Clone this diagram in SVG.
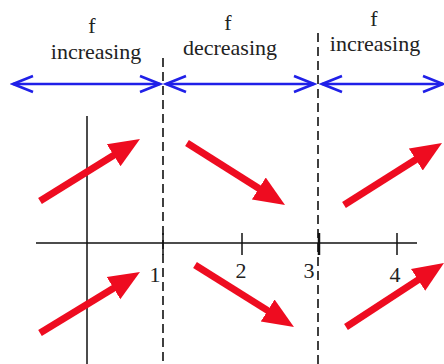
<svg xmlns="http://www.w3.org/2000/svg" width="444" height="364" viewBox="0 0 444 364">
<style>
.t{font-family:"Liberation Serif","Times New Roman",serif;font-size:22px;fill:#222;text-anchor:middle}
.n{font-family:"Liberation Serif","Times New Roman",serif;font-size:22px;fill:#222;text-anchor:middle}
.ax{stroke:#111;stroke-width:1.5;fill:none}
.dash{stroke:#111;stroke-width:1.6;stroke-dasharray:9,5;fill:none}
.blue{stroke:#2020e8;stroke-width:2.6;fill:none;marker-start:url(#bh);marker-end:url(#bh)}
.red{stroke:#ee0c20;stroke-width:7;fill:none;marker-end:url(#rh)}
</style>
<defs>
<marker id="bh" markerUnits="userSpaceOnUse" markerWidth="26" markerHeight="22" viewBox="0 0 26 22" refX="23" refY="11" orient="auto-start-reverse">
<path d="M3,3 L23,11 L3,19" stroke="#2020e8" stroke-width="2.6" fill="none" stroke-linejoin="miter"/>
</marker>
<marker id="rh" markerUnits="userSpaceOnUse" markerWidth="32" markerHeight="28" viewBox="0 0 32 28" refX="11" refY="14" orient="auto">
<path d="M0,1 L31,14 L0,27 Z" fill="#ee0c20"/>
</marker>
</defs>
<g id="labels">
<text class="t" x="92" y="33">f</text>
<text class="t" x="96" y="59">increasing</text>
<text class="t" x="228" y="30">f</text>
<text class="t" x="230" y="55">decreasing</text>
<text class="t" x="374" y="26">f</text>
<text class="t" x="375" y="51">increasing</text>
</g>
<g id="axes">
<line class="ax" x1="36" y1="243" x2="417" y2="243"/>
<line class="ax" x1="87" y1="116" x2="87" y2="364"/>
<line class="ax" x1="163" y1="233" x2="163" y2="255"/>
<line class="ax" x1="242" y1="233" x2="242" y2="255"/>
<line class="ax" x1="319" y1="233" x2="319" y2="255" style="stroke-width:2.5"/>
<line class="ax" x1="397" y1="233" x2="397" y2="255"/>
<text class="n" x="155" y="282">1</text>
<text class="n" x="241" y="278">2</text>
<text class="n" x="309" y="278">3</text>
<text class="n" x="395" y="282">4</text>
</g>
<g id="connectors">
<line class="dash" x1="163" y1="58" x2="163" y2="364"/>
<line class="dash" x1="318" y1="33" x2="318" y2="364"/>
<line class="blue" x1="13" y1="84" x2="160" y2="84"/>
<line class="blue" x1="166" y1="84" x2="314" y2="84"/>
<line class="blue" x1="322" y1="84" x2="443" y2="84"/>
<line class="red" x1="40" y1="201" x2="123" y2="149.5"/>
<line class="red" x1="187" y1="143" x2="268.1" y2="194.3"/>
<line class="red" x1="344" y1="205" x2="425.1" y2="153.7"/>
<line class="red" x1="40" y1="333" x2="122.9" y2="282.4"/>
<line class="red" x1="195" y1="265" x2="277" y2="316.4"/>
<line class="red" x1="346" y1="327" x2="427.3" y2="273.9"/>
</g>
</svg>
